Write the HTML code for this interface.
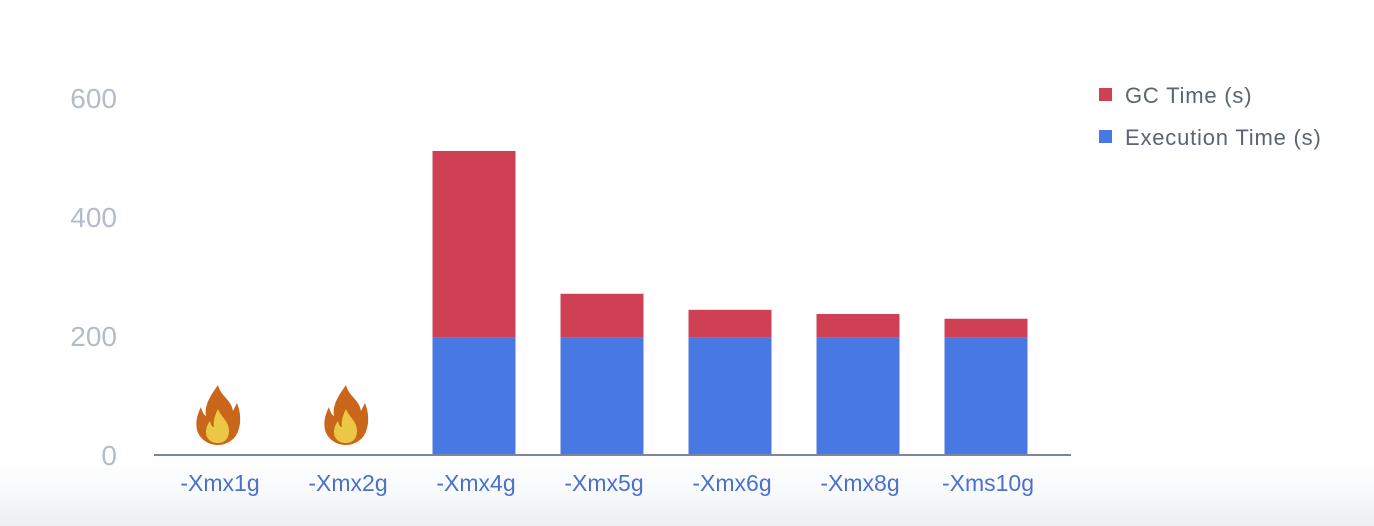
<!DOCTYPE html>
<html><head><meta charset="utf-8"><style>
body{margin:0;width:1374px;height:526px;overflow:hidden;font-family:"Liberation Sans",sans-serif;background:#fff}
svg{display:block}
</style></head><body>
<svg id="chart" width="1374" height="526" xmlns="http://www.w3.org/2000/svg">
<defs><linearGradient id="bg" x1="0" y1="0" x2="0" y2="1">
<stop offset="0" stop-color="#ffffff"/><stop offset="0.55" stop-color="#f8f9fa"/><stop offset="1" stop-color="#eceef2"/></linearGradient></defs>
<rect x="0" y="456" width="1374" height="70" fill="url(#bg)"/>
<g id="yaxis"></g><g id="bars"></g><g id="xaxis"></g>
<g>
<rect x="1099" y="88" width="13" height="13" fill="#cf4055"/>
<text x="1125" y="103" font-size="22" letter-spacing="0.8" fill="#5a6472">GC Time (s)</text>
<rect x="1099" y="130" width="13" height="13" fill="#4879e2"/>
<text x="1125" y="145" font-size="22" letter-spacing="0.8" fill="#5a6472">Execution Time (s)</text>
</g>
</svg>
<script>
const categories=["-Xmx1g","-Xmx2g","-Xmx4g","-Xmx5g","-Xmx6g","-Xmx8g","-Xms10g"];
const execTime=[0,0,197,197,197,197,197];
const gcTime=[0,0,314,74,47,40,32];
const crashed=[true,true,false,false,false,false,false];
const yTicks=[0,200,400,600];
const NS="http://www.w3.org/2000/svg";
const y0=455,pxPerUnit=0.595,x0=154,band=128,barW=83;
const yS=v=>y0-v*pxPerUnit;
const xC=i=>x0+band*i+band/2;
function mk(t,a,p){const e=document.createElementNS(NS,t);for(const k in a)e.setAttribute(k,a[k]);p.appendChild(e);return e;}
const ya=document.getElementById('yaxis');
yTicks.forEach(v=>{const t=mk('text',{x:117,y:yS(v)+10,'text-anchor':'end','font-size':28,fill:'#b4bccb'},ya);t.textContent=v;

});
const bars=document.getElementById('bars');
categories.forEach((c,i)=>{
 const x=xC(i)-barW/2;
 if(crashed[i]){
  const g=mk('g',{transform:`translate(${xC(i)-23},385)`},bars);
  
  
  mk('path',{d:'M23 0 C26 12 36 14 38 26 C40 22 41 20 42 18 C47 30 46 44 40 52 C35 58 28 60 23 60 C14 60 5 55 2 45 C0 36 3 28 6 22 C7 27 9 30 11 31 C9 20 16 10 23 0 Z',fill:'#c9661a'},g);
  mk('path',{d:'M23 24 C26 32 34 36 34 46 C34 54 29 58 23 58 C16 58 11 54 11 47 C11 42 13 39 15 36 C16 40 17 42 19 42 C18 36 20 30 23 24 Z',fill:'#ebc745'},g);
  return;
 }
 const e=mk('rect',{x:x,y:yS(execTime[i]),width:barW,height:execTime[i]*pxPerUnit,fill:'#4879e2'},bars);
 
 
 const g=mk('rect',{x:x,y:yS(execTime[i]+gcTime[i]),width:barW,height:gcTime[i]*pxPerUnit,fill:'#cf4055'},bars);
 
 
});
const xa=document.getElementById('xaxis');
const ln=mk('line',{x1:154,x2:1071,y1:y0,y2:y0,stroke:'#7d849e','stroke-width':2},xa);


categories.forEach((c,i)=>{const t=mk('text',{x:xC(i)+2,y:491,'text-anchor':'middle','font-size':23,fill:'#4a70d0'},xa);t.textContent=c;

});
</script>
</body></html>
